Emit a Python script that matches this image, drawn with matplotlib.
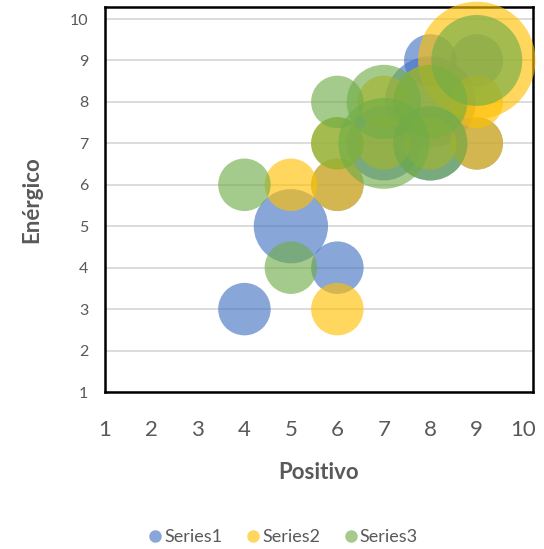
import numpy as np
import matplotlib
matplotlib.use("Agg")
import matplotlib.pyplot as plt
from matplotlib.lines import Line2D

plt.rcParams['font.family'] = ['Lato', 'DejaVu Sans']

# bubble data: (Positivo, Enérgico, count)
s1_x = [4, 5, 6, 6, 7, 8, 8, 8, 9, 9]
s1_y = [3, 5, 4, 6, 7, 7, 8, 9, 7, 9]
s1_size = [1, 2, 1, 1, 2, 2, 3, 1, 1, 1]

s2_x = [5, 6, 6, 6, 7, 7, 8, 8, 9, 9, 9]
s2_y = [6, 3, 6, 7, 7, 8, 7, 8, 7, 8, 9]
s2_size = [1, 1, 1, 1, 1, 1, 1, 2, 1, 1, 5]

s3_x = [4, 5, 6, 6, 7, 7, 8, 8, 9]
s3_y = [6, 4, 7, 8, 7, 8, 7, 8, 9]
s3_size = [1, 1, 1, 1, 3, 2, 2, 2, 3]

series_names = ["Series1", "Series2", "Series3"]
series_colors = ["#4472C4", "#FFC000", "#70AD47"]
ticks = list(range(1, 11))

DPI = 100
fig = plt.figure(figsize=(5.44, 5.49), dpi=DPI)
ax = fig.add_axes([105 / 544, 1 - 392 / 549, 428 / 544, 385 / 549])

# one unit of count -> bubble of ~52 px diameter
unit_pts = 52.5 * 72 / DPI
alpha = 0.63
for xs, ys, sz, col in zip([s1_x, s2_x, s3_x], [s1_y, s2_y, s3_y],
                           [s1_size, s2_size, s3_size], series_colors):
    ax.scatter(xs, ys, s=np.array(sz) * unit_pts ** 2, color=col,
               alpha=alpha, linewidths=0, clip_on=False, zorder=3)

ax.set_xlim(1, 10.21)
ax.set_ylim(1, 10.29)
ax.set_xticks(ticks)
ax.set_yticks(ticks)
ax.tick_params(length=0)
ax.tick_params(axis='x', labelsize=16, labelcolor="#595959", pad=20)
ax.tick_params(axis='y', labelsize=11.5, labelcolor="#595959", pad=12)
ax.grid(axis='y', color="#D9D9D9", linewidth=1.3, zorder=0)
ax.set_axisbelow(True)
for sp in ax.spines.values():
    sp.set_color("black")
    sp.set_linewidth(1.8)

ax.set_xlabel("Positivo", fontsize=16, fontweight='bold', color="#595959", labelpad=16)
ax.set_ylabel("Enérgico", fontsize=16, fontweight='bold', color="#595959", labelpad=20)

handles = [Line2D([], [], marker='o', linestyle='none', markersize=9,
                  markerfacecolor=c, markeredgewidth=0, alpha=alpha)
           for c in series_colors]
fig.legend(handles, series_names, loc='center', bbox_to_anchor=(283 / 544, 1 - 537 / 549),
           ncol=3, frameon=False, fontsize=13, labelcolor="#595959",
           handletextpad=0.1, columnspacing=1.3, handlelength=0.8)

fig.savefig("out.png", dpi=DPI)
